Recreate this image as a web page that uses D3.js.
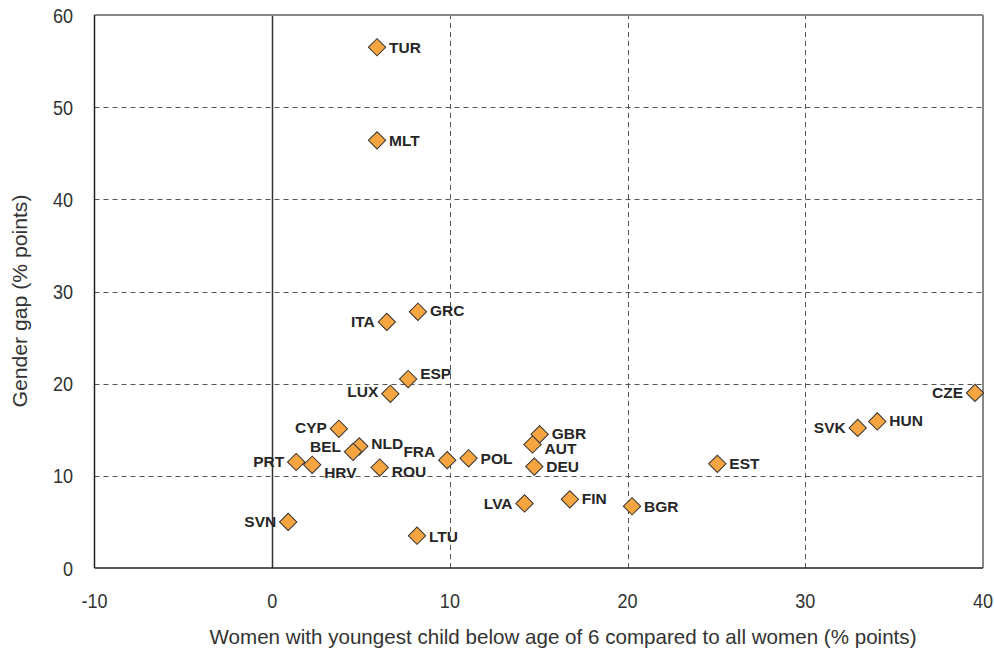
<!DOCTYPE html>
<html>
<head>
<meta charset="utf-8">
<script src="https://cdn.jsdelivr.net/npm/d3@7"></script>
<style>
  body { margin: 0; background: #fff; }
  .tick-label, .axis-title { font-family: "Liberation Sans Narrow", "Arial Narrow", "Liberation Sans", sans-serif; fill: #333; }
  .pt-label { font-family: "Liberation Sans", Arial, sans-serif; font-weight: bold; font-size: 15.5px; fill: #262626; }
</style>
</head>
<body>
<div id="chart"></div>
<script>
// country codes and values
var countries = ["TUR","MLT","GRC","ITA","ESP","LUX","CYP","NLD","BEL","PRT","HRV","ROU","FRA","POL",
                 "GBR","AUT","DEU","LVA","FIN","BGR","EST","SVK","HUN","CZE","SVN","LTU"];
var childGap = [5.9, 5.9, 8.2, 6.45, 7.65, 6.65, 3.75, 4.9, 4.55, 1.35, 2.25, 6.05, 9.85, 11.05,
                15.05, 14.65, 14.75, 14.2, 16.75, 20.25, 25.05, 32.95, 34.05, 39.55, 0.9, 8.15];
var genderGap = [56.5, 46.4, 27.8, 26.7, 20.5, 18.9, 15.1, 13.2, 12.6, 11.5, 11.2, 10.9, 11.7, 11.9,
                 14.5, 13.4, 11.0, 7.0, 7.45, 6.7, 11.3, 15.2, 15.9, 19.0, 5.0, 3.5];
var xTicks = [-10, 0, 10, 20, 30, 40];
var yTicks = [0, 10, 20, 30, 40, 50, 60];

// label placement: side of the marker, vertical nudge
var labelSide = {
  TUR: ["r", 0], MLT: ["r", 0], GRC: ["r", -1], ITA: ["l", 0], ESP: ["r", -6], LUX: ["l", -2],
  CYP: ["l", -1], NLD: ["r", -3], BEL: ["l", -5], PRT: ["l", -1], HRV: ["r", 8], ROU: ["r", 4],
  FRA: ["l", -9], POL: ["r", 0], GBR: ["r", -1], AUT: ["r", 4], DEU: ["r", 0], LVA: ["l", 0],
  FIN: ["r", -1], BGR: ["r", 0], EST: ["r", 0], SVK: ["l", 0], HUN: ["r", -1], CZE: ["l", 0],
  SVN: ["l", 0], LTU: ["r", 1]
};

var data = countries.map(function(c, i) {
  return {name: c, x: childGap[i], y: genderGap[i]};
});

var width = 994, height = 651;
var margin = {top: 15, right: 11, bottom: 83, left: 94.5};
var squeeze = 0.86;

var svg = d3.select("#chart").append("svg")
    .attr("width", width)
    .attr("height", height);

var x = d3.scaleLinear().domain([-10, 40]).range([margin.left, width - margin.right]);
var y = d3.scaleLinear().domain([0, 60]).range([height - margin.bottom, margin.top]);

// grid
svg.append("g").selectAll("line.gy")
  .data(yTicks.filter(function(d) { return d > 0 && d < 60; }))
  .enter().append("line")
    .attr("x1", x(-10)).attr("x2", x(40))
    .attr("y1", function(d) { return Math.round(y(d)) + 0.5; })
    .attr("y2", function(d) { return Math.round(y(d)) + 0.5; })
    .attr("stroke", "#555").attr("stroke-dasharray", "5,4");

svg.append("g").selectAll("line.gx")
  .data(xTicks.filter(function(d) { return d > 0 && d < 40; }))
  .enter().append("line")
    .attr("y1", y(0)).attr("y2", y(60))
    .attr("x1", function(d) { return Math.round(x(d)) + 0.5; })
    .attr("x2", function(d) { return Math.round(x(d)) + 0.5; })
    .attr("stroke", "#555").attr("stroke-dasharray", "5,4");

// zero line
svg.append("line")
    .attr("x1", Math.round(x(0)) + 0.5).attr("x2", Math.round(x(0)) + 0.5)
    .attr("y1", y(0)).attr("y2", y(60))
    .attr("stroke", "#333").attr("stroke-width", 1.5);

// frame: top/right grey, left/bottom dark
svg.append("line").attr("x1", x(-10)).attr("x2", x(40)).attr("y1", y(60)).attr("y2", y(60))
    .attr("stroke", "#888").attr("stroke-width", 2);
svg.append("line").attr("x1", x(40)).attr("x2", x(40)).attr("y1", y(60)).attr("y2", y(0))
    .attr("stroke", "#888").attr("stroke-width", 2);
svg.append("line").attr("x1", x(-10)).attr("x2", x(-10)).attr("y1", y(60)).attr("y2", y(0))
    .attr("stroke", "#222").attr("stroke-width", 1.5);
svg.append("line").attr("x1", x(-10)).attr("x2", x(40)).attr("y1", y(0)).attr("y2", y(0))
    .attr("stroke", "#222").attr("stroke-width", 1.5);

// tick labels (condensed by horizontal scaling)
svg.append("g").selectAll("text")
  .data(yTicks)
  .enter().append("text")
    .attr("class", "tick-label")
    .attr("transform", function(d) { return "translate(73," + y(d) + ")scale(" + squeeze + ",1)"; })
    .attr("dy", "0.36em")
    .attr("text-anchor", "end")
    .style("font-size", "21px")
    .text(function(d) { return d; });

svg.append("g").selectAll("text")
  .data(xTicks)
  .enter().append("text")
    .attr("class", "tick-label")
    .attr("transform", function(d) { return "translate(" + x(d) + ",608)scale(" + squeeze + ",1)"; })
    .attr("text-anchor", "middle")
    .style("font-size", "21px")
    .text(function(d) { return d; });

// axis titles
svg.append("text")
    .attr("class", "axis-title")
    .attr("x", 563).attr("y", 644)
    .attr("text-anchor", "middle")
    .style("font-size", "21px")
    .attr("textLength", 707).attr("lengthAdjust", "spacingAndGlyphs")
    .text("Women with youngest child below age of 6 compared to all women (% points)");

svg.append("text")
    .attr("class", "axis-title")
    .attr("transform", "translate(27,301)rotate(-90)")
    .attr("text-anchor", "middle")
    .style("font-size", "21px")
    .attr("textLength", 213).attr("lengthAdjust", "spacingAndGlyphs")
    .text("Gender gap (% points)");

// markers
var diamond = d3.symbol().type(d3.symbolSquare).size(150);

svg.append("g").selectAll("path")
  .data(data)
  .enter().append("path")
    .attr("d", diamond)
    .attr("transform", function(d) { return "translate(" + x(d.x) + "," + y(d.y) + ")rotate(45)"; })
    .attr("fill", "#F7A541")
    .attr("stroke", "#333")
    .attr("stroke-width", 1);

svg.append("g").selectAll("text")
  .data(data)
  .enter().append("text")
    .attr("class", "pt-label")
    .attr("x", function(d) { return x(d.x) + (labelSide[d.name][0] === "r" ? 12 : -12); })
    .attr("y", function(d) { return y(d.y) + labelSide[d.name][1]; })
    .attr("dy", "0.36em")
    .attr("text-anchor", function(d) { return labelSide[d.name][0] === "r" ? "start" : "end"; })
    .text(function(d) { return d.name; });
</script>
</body>
</html>
